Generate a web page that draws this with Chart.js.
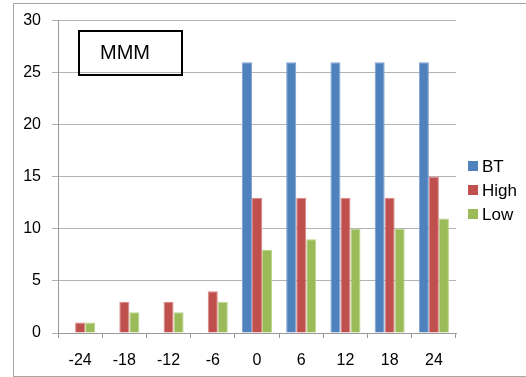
<!DOCTYPE html>
<html>
<head>
<meta charset="utf-8">
<script src="https://cdn.jsdelivr.net/npm/chart.js@4/dist/chart.umd.min.js"></script>
<style>
  html, body { margin: 0; padding: 0; background: #fff; }
  #wrap { position: relative; width: 526px; height: 377px; }
</style>
</head>
<body>
<div id="wrap"><canvas id="c" width="526" height="377"></canvas></div>
<script>
// Hours relative to event
const categories = ['-24', '-18', '-12', '-6', '0', '6', '12', '18', '24'];
const btValues   = [0, 0, 0, 0, 26, 26, 26, 26, 26];
const highValues = [1, 3, 3, 4, 13, 13, 13, 13, 15];
const lowValues  = [1, 2, 2, 3, 8, 9, 10, 10, 11];
const seriesNames = ['BT', 'High', 'Low'];
const boxLabel = 'MMM';

const FONT = '"Liberation Sans", Arial, sans-serif';

// Frame, annotation box and legend drawn on the canvas
const decorations = {
  id: 'decorations',
  afterDraw(chart) {
    const ctx = chart.ctx;
    ctx.save();
    // outer frame
    ctx.strokeStyle = '#a6a6a6';
    ctx.lineWidth = 1;
    ctx.strokeRect(13.5, 3.5, 600, 373);
    // label box
    ctx.strokeStyle = '#000';
    ctx.lineWidth = 2;
    ctx.strokeRect(79, 31, 103, 44);
    ctx.fillStyle = '#000';
    ctx.font = '20px ' + FONT;
    ctx.textAlign = 'center';
    ctx.textBaseline = 'middle';
    ctx.fillText(boxLabel, 125, 53);
    // legend
    ctx.font = '17px ' + FONT;
    ctx.textAlign = 'left';
    chart.data.datasets.forEach((ds, i) => {
      const cy = 166 + i * 24;
      ctx.fillStyle = ds.backgroundColor;
      ctx.fillRect(468, cy - 5, 10, 10);
      ctx.fillStyle = '#000';
      ctx.fillText(ds.label, 482, cy + 1);
    });
    ctx.restore();
  }
};

const colors = ['#4F81BD', '#C0504D', '#9BBB59'];
const edges  = ['#7fa3d1', '#d98886', '#bcd48d'];
const values = [btValues, highValues, lowValues];

new Chart(document.getElementById('c'), {
  type: 'bar',
  data: {
    labels: categories,
    datasets: values.map((v, i) => ({
      label: seriesNames[i],
      data: v,
      backgroundColor: colors[i],
      borderColor: edges[i],
      borderWidth: { top: 1, left: 1, right: 1, bottom: 0 },
      categoryPercentage: 0.68,
      barPercentage: 1.0
    }))
  },
  options: {
    responsive: false,
    animation: false,
    devicePixelRatio: 1,
    layout: { padding: { top: 18, right: 70, left: 0, bottom: 0 } },
    plugins: { legend: { display: false }, tooltip: { enabled: false } },
    scales: {
      x: {
        offset: true,
        grid: { offset: true, drawOnChartArea: false, drawTicks: true, tickLength: 5, color: '#999' },
        border: { color: '#999', width: 1 },
        ticks: { color: '#000', font: { family: FONT, size: 16 }, padding: 13, maxRotation: 0 },
        afterFit(scale) { scale.height = 44; }
      },
      y: {
        min: 0, max: 30,
        ticks: { stepSize: 5, color: '#000', font: { family: FONT, size: 16 }, padding: 11 },
        grid: { color: '#b3b3b3', tickLength: 6, drawTicks: true },
        border: { color: '#999', width: 1 },
        afterFit(scale) { scale.width = 58; }
      }
    }
  },
  plugins: [decorations]
});
</script>
</body>
</html>
